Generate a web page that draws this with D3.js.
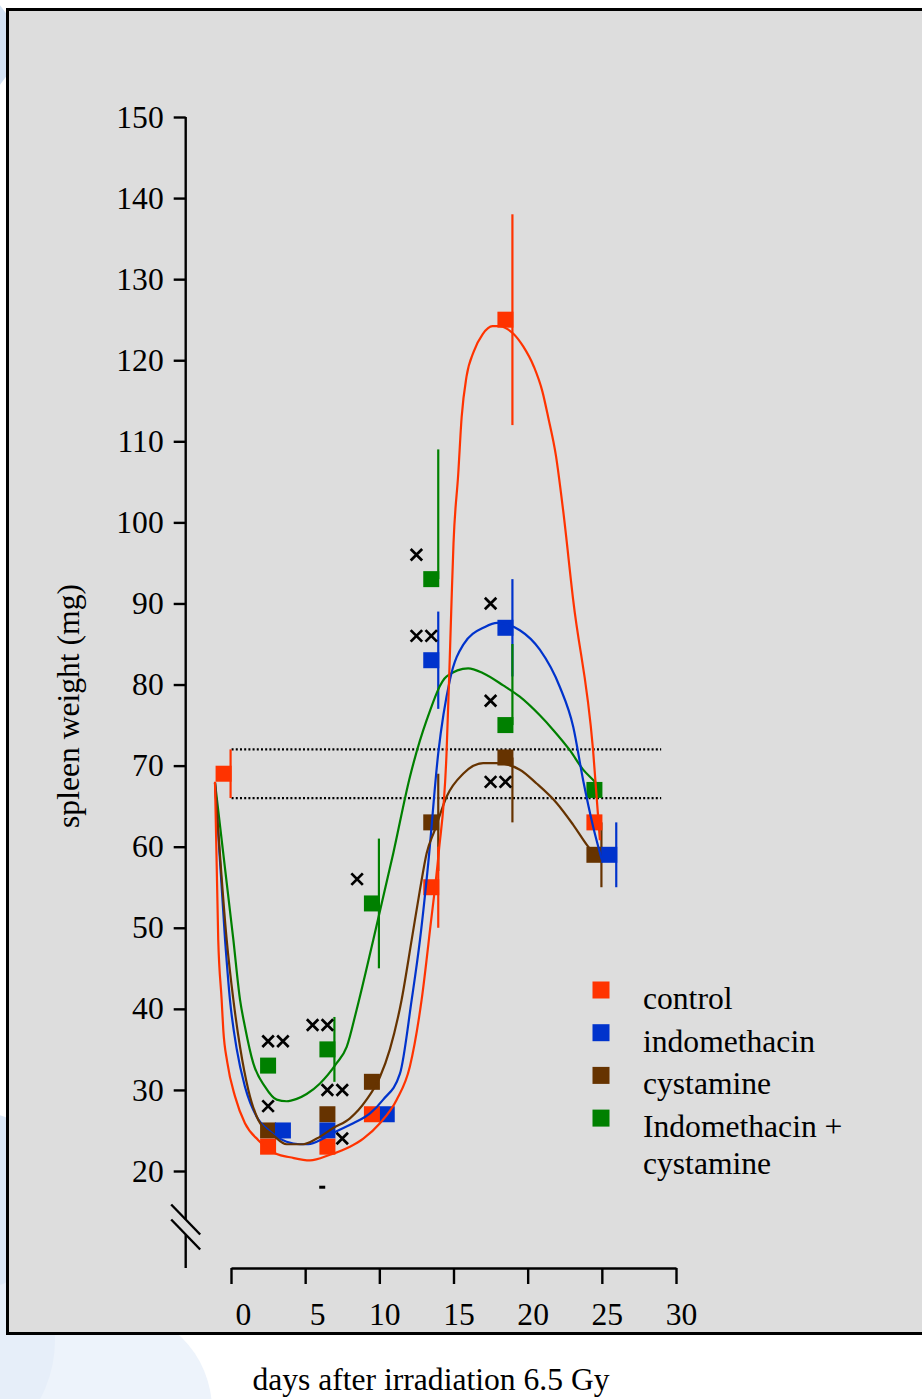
<!DOCTYPE html>
<html><head><meta charset="utf-8">
<script src="https://cdn.jsdelivr.net/npm/d3@7"></script>
<style>
html,body{margin:0;padding:0;background:#fff;}
svg{display:block;}
text{font-family:"Liberation Serif","Times New Roman",Times,serif;fill:#000;}
</style></head><body>
<svg id="chart" width="922" height="1399"></svg>
<script>
// ---------- data ----------
const seriesNames = ["control", "indomethacin", "cystamine", "Indomethacin + cystamine"];
const seriesColors = ["#ff3300", "#0033cc", "#663300", "#008000"];

const xTicks = [0, 5, 10, 15, 20, 25, 30];
const yTicks = [20, 30, 40, 50, 60, 70, 80, 90, 100, 110, 120, 130, 140, 150];

// measured means (day, mg) with error bars (upper / lower extent)
const controlDays = [-0.5, 2.5, 6.5, 9.5, 13.5, 18.5, 24.5];
const controlValues = [69, 23, 23, 27, 55, 125, 63];
const controlErrUp = [3, 0, 0, 0, 5, 13, 0];
const controlErrDown = [3, 0, 0, 0, 5, 13, 0];

const indoDays = [3.5, 6.5, 10.5, 13.5, 18.5, 25.5];
const indoValues = [25, 25, 27, 83, 87, 59];
const indoErrUp = [0, 0, 0, 6, 6, 4];
const indoErrDown = [0, 0, 0, 6, 6, 4];

const cystDays = [2.5, 6.5, 9.5, 13.5, 18.5, 24.5];
const cystValues = [25, 27, 31, 63, 71, 59];
const cystErrUp = [0, 0, 0, 6, 0, 4];
const cystErrDown = [0, 0, 0, 6, 8, 4];

const comboDays = [2.5, 6.5, 9.5, 13.5, 18.5, 24.5];
const comboValues = [33, 35, 53, 93, 75, 67];
const comboErrUp = [0, 4, 8, 16, 10, 0];
const comboErrDown = [0, 4, 8, 0, 0, 0];

// fitted curves: [day, mg]
const controlCurve = [[-1.08,68],[-0.86,48.5],[-0.63,41.1],[-0.52,37.4],[-0.25,33.4],[0.27,29.2],[0.94,25.9],[1.84,23.8],[3.08,22.1],[3.98,21.7],[5.32,21.3],[6.67,22.0],[8.02,23.0],[8.92,24.0],[10.04,25.9],[11.17,28.8],[12.06,32.9],[12.85,41.1],[13.44,50.1],[14.0,59.2],[14.53,71.5],[14.71,81.0],[14.87,90.4],[15.0,97.4],[15.32,106.0],[15.55,113.0],[15.88,118.0],[16.37,121.1],[16.96,123.2],[17.63,124.2],[18.13,124.2],[18.58,123.9],[19.02,123.3],[19.70,121.7],[20.42,119.2],[21.0,116.1],[21.38,113.0],[21.9,108.3],[22.39,101.5],[23.07,90.4],[24.41,71.9],[24.87,60.8]];
const indoCurve = [[-1.08,67.9],[-0.4,48.5],[-0.07,41.1],[0.38,35.1],[0.94,30.4],[1.73,26.7],[2.63,24.9],[3.75,23.6],[4.65,23.3],[5.21,23.3],[6.22,24.0],[7.12,24.9],[8.24,25.9],[9.37,27.1],[10.26,28.8],[11.39,32.0],[12.18,41.1],[12.74,48.5],[13.3,58.0],[13.97,71.5],[14.76,80.6],[15.65,84.9],[17.12,87.1],[17.94,87.6],[19.47,86.7],[20.82,84.3],[22.17,79.7],[23.07,74.8],[23.74,68.2],[24.41,62.5],[25.0,58.4]];
const cystCurve = [[-1.08,67.9],[-0.29,48.5],[0.16,41.1],[0.61,35.3],[1.17,30.0],[1.84,26.3],[2.85,24.4],[3.75,23.3],[4.87,23.3],[5.78,24.0],[6.89,25.3],[8.02,26.5],[9.14,28.8],[10.04,31.6],[10.71,35.0],[11.5,41.1],[12.18,48.5],[12.74,54.7],[13.19,59.2],[13.75,62.1],[14.54,66.2],[15.65,69.0],[17.0,70.3],[17.9,70.3],[19.47,69.5],[20.6,67.8],[21.95,65.4],[23.07,62.7],[24.08,60.0],[24.75,58.6]];
const comboCurve = [[-1.08,67.9],[0.16,48.5],[0.61,41.1],[0.94,37.8],[1.5,33.3],[2.29,30.4],[3.08,28.8],[3.75,28.6],[4.43,28.9],[5.1,29.5],[6.0,30.8],[7.12,33.3],[7.8,35.3],[8.47,39.9],[9.59,48.5],[10.94,59.2],[12.06,68.6],[13.19,75.6],[14.54,81.0],[15.99,82.0],[17.0,81.4],[18.35,79.9],[19.47,78.5],[20.82,76.2],[21.72,74.4],[22.84,71.9],[23.74,69.5],[24.53,68.0],[24.9,67.2]];

// significance marks (×) and a single dash mark
const sigMarks = [[2.5,36],[3.5,36],[2.5,28],[5.5,38],[6.5,38],[6.5,30],[7.5,30],[7.5,24],[8.5,56],[12.5,96],[12.5,86],[13.5,86],[17.5,90],[17.5,78],[17.5,68],[18.5,68]];
const dashMarks = [[6.15,18]];

// control reference band (day-0 mean ± SD)
const refBand = [66, 72];
const refBandEndDay = 29;

// ---------- build ----------
function build(days, vals, up, down) {
  return days.map((d, i) => ({day: d, value: vals[i], up: up[i], down: down[i]}));
}
const series = [
  {name: seriesNames[2], color: seriesColors[2], pts: build(cystDays, cystValues, cystErrUp, cystErrDown), curve: cystCurve},
  {name: seriesNames[1], color: seriesColors[1], pts: build(indoDays, indoValues, indoErrUp, indoErrDown), curve: indoCurve},
  {name: seriesNames[3], color: seriesColors[3], pts: build(comboDays, comboValues, comboErrUp, comboErrDown), curve: comboCurve},
  {name: seriesNames[0], color: seriesColors[0], pts: build(controlDays, controlValues, controlErrUp, controlErrDown), curve: controlCurve}
];

const svg = d3.select("#chart");
const FONT = 31.6;
const SQ = 16;

// decorative pale background shapes (outside frame)
const deco = svg.append("g");
deco.append("circle").attr("cx", -45).attr("cy", 45).attr("r", 60).attr("fill", "#d3e2f4");
deco.append("circle").attr("cx", 110).attr("cy", 1410).attr("r", 102).attr("fill", "#edf3fb");
deco.append("circle").attr("cx", -70).attr("cy", 1340).attr("r", 125).attr("fill", "#e6eef9");
deco.append("circle").attr("cx", -30).attr("cy", 1200).attr("r", 90).attr("fill", "#dbe7f6");

// frame
svg.append("rect").attr("x", 7.5).attr("y", 9.5).attr("width", 940).attr("height", 1324)
  .attr("fill", "#dddddd").attr("stroke", "#000").attr("stroke-width", 3);

const x = d3.scaleLinear().domain([0, 30]).range([231, 676]);
const y = d3.scaleLinear().domain([20, 150]).range([1171, 117]);
const axisX = 185.7;
const xAxisY = 1268;

// y axis
const gy = svg.append("g").attr("transform", `translate(${axisX},0)`)
  .call(d3.axisLeft(y).tickValues(yTicks).tickSize(12).tickPadding(10).tickSizeOuter(0));
gy.select(".domain").remove();
gy.selectAll(".tick line").attr("stroke", "#000").attr("stroke-width", 2.4);
gy.selectAll(".tick text").attr("font-size", FONT).attr("font-family", "Liberation Serif, Times New Roman, serif").attr("fill", "#000");

// y axis line with break
const brk1 = xAxisY - 48.5, brk2 = xAxisY - 33.5;
const axLine = svg.append("g").attr("stroke", "#000").attr("stroke-width", 2.4).attr("fill", "none");
axLine.append("line").attr("x1", axisX).attr("x2", axisX).attr("y1", y(150)).attr("y2", brk1);
axLine.append("line").attr("x1", axisX).attr("x2", axisX).attr("y1", brk2).attr("y2", xAxisY);
[brk1, brk2].forEach(c => {
  axLine.append("line").attr("x1", axisX - 14.5).attr("y1", c - 15).attr("x2", axisX + 14.5).attr("y2", c + 15);
});

// x axis
const gx = svg.append("g").attr("transform", `translate(0,${xAxisY})`)
  .call(d3.axisBottom(x).tickValues(xTicks).tickSize(16).tickPadding(19).tickSizeOuter(0));
gx.select(".domain").attr("stroke", "#000").attr("stroke-width", 2.4);
gx.selectAll(".tick line").attr("stroke", "#000").attr("stroke-width", 2.4);
gx.selectAll(".tick text").attr("font-size", FONT).attr("font-family", "Liberation Serif, Times New Roman, serif")
  .attr("fill", "#000").attr("dx", d => d < 10 ? 12 : 5);

// axis titles
svg.append("text").attr("transform", `translate(79,706) rotate(-90)`).attr("text-anchor", "middle")
  .attr("font-size", FONT).text("spleen weight (mg)");
svg.append("text").attr("x", 431).attr("y", 1390).attr("text-anchor", "middle")
  .attr("font-size", FONT).text("days after irradiation 6.5 Gy");

// reference band (dotted)
const ctrl0 = series[3].pts[0];
const bandG = svg.append("g");
refBand.forEach(v => {
  bandG.append("line").attr("x1", x(ctrl0.day) + SQ / 2).attr("x2", x(refBandEndDay))
    .attr("y1", y(v)).attr("y2", y(v))
    .attr("stroke", "#000").attr("stroke-width", 2.2).attr("stroke-dasharray", "2,2.2");
});

// error bars + squares
series.forEach(s => {
  const g = svg.append("g");
  g.selectAll("line.err").data(s.pts.filter(p => p.up > 0 || p.down > 0)).join("line")
    .attr("class", "err")
    .attr("x1", p => x(p.day) + SQ / 2 - 1).attr("x2", p => x(p.day) + SQ / 2 - 1)
    .attr("y1", p => y(p.value + p.up)).attr("y2", p => y(p.value - p.down))
    .attr("stroke", s.color).attr("stroke-width", 2.2);
  g.selectAll("rect").data(s.pts).join("rect")
    .attr("x", p => x(p.day) - SQ / 2).attr("y", p => y(p.value) - SQ / 2)
    .attr("width", SQ).attr("height", SQ).attr("fill", s.color);
});

// curves
const line = d3.line().x(d => x(d[0])).y(d => y(d[1])).curve(d3.curveMonotoneX);
[series[2], series[1], series[0], series[3]].forEach(s => {
  svg.append("path").datum(s.curve).attr("d", line)
    .attr("fill", "none").attr("stroke", s.color).attr("stroke-width", 2.2).attr("stroke-linejoin", "round");
});

// significance marks
const sym = d3.symbol(d3.symbolTimes, 88);
svg.append("g").selectAll("path").data(sigMarks).join("path")
  .attr("transform", d => `translate(${x(d[0])},${y(d[1])})`)
  .attr("d", sym).attr("fill", "none").attr("stroke", "#000").attr("stroke-width", 2.7);
svg.append("g").selectAll("line").data(dashMarks).join("line")
  .attr("x1", d => x(d[0]) - 3).attr("x2", d => x(d[0]) + 3)
  .attr("y1", d => y(d[1])).attr("y2", d => y(d[1]))
  .attr("stroke", "#000").attr("stroke-width", 3);

// legend
const legendItems = [
  {lines: ["control"], color: seriesColors[0]},
  {lines: ["indomethacin"], color: seriesColors[1]},
  {lines: ["cystamine"], color: seriesColors[2]},
  {lines: ["Indomethacin +", "cystamine"], color: seriesColors[3]}
];
const lg = svg.append("g");
legendItems.forEach((it, i) => {
  const cy = 990 + i * 42.7;
  lg.append("rect").attr("x", 592.5).attr("y", cy - 8.5).attr("width", 17).attr("height", 17).attr("fill", it.color);
  const t = lg.append("text").attr("x", 643).attr("y", cy + 19).attr("font-size", FONT);
  it.lines.forEach((l, j) => {
    t.append("tspan").attr("x", 643).attr("dy", j === 0 ? 0 : 37.3).text(l);
  });
});
</script>
</body></html>
